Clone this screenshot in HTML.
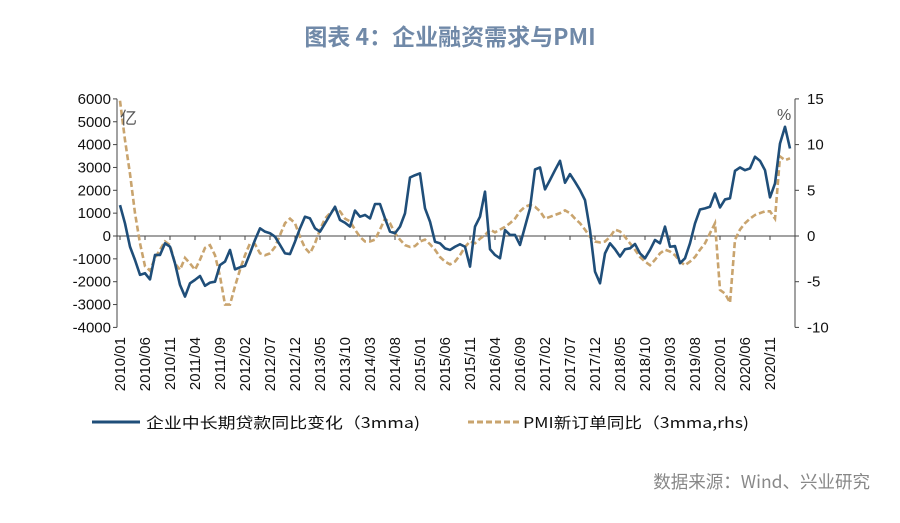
<!DOCTYPE html>
<html><head><meta charset="utf-8"><style>
body{margin:0;background:#fff;}
svg{display:block;font-family:"Liberation Sans","Noto Sans CJK SC",sans-serif;}
</style></head><body>
<svg width="900" height="523" viewBox="0 0 900 523">
<text x="450" y="45" text-anchor="middle" font-size="23" font-weight="600" fill="#7089a8" font-family="'Noto Sans CJK SC',sans-serif">图表 4：企业融资需求与PMI</text>
<g id="axes"></g>
<g id="marks"></g>
<text x="120" y="124" font-size="17" fill="#555" font-family="'Noto Sans CJK SC',sans-serif">亿</text>
<text x="777" y="120" font-size="16" fill="#555">%</text>
<g>
<line x1="92" y1="422" x2="140" y2="422" stroke="#1f4e79" stroke-width="3"/>
<text x="146" y="428" font-size="15" fill="#111" textLength="274" lengthAdjust="spacingAndGlyphs" font-family="'Noto Sans CJK SC',sans-serif">企业中长期贷款同比变化（3mma)</text>
<line x1="468" y1="422" x2="520" y2="422" stroke="#c9a46e" stroke-width="3" stroke-dasharray="6,3"/>
<text x="523" y="428" font-size="15" fill="#111" textLength="226" lengthAdjust="spacingAndGlyphs" font-family="'Noto Sans CJK SC',sans-serif">PMI新订单同比（3mma,rhs)</text>
</g>
<text x="870" y="488" text-anchor="end" font-size="17.5" fill="#888" font-family="'Noto Sans CJK SC',sans-serif">数据来源：Wind、兴业研究</text>
</svg>
<script>
const loans=[1350,550,-470,-1050,-1700,-1630,-1900,-830,-830,-320,-470,-1200,-2140,-2650,-2070,-1920,-1750,-2180,-2040,-2000,-1270,-1120,-610,-1460,-1370,-1310,-760,-175,335,190,120,-30,-390,-760,-790,-250,335,845,770,335,190,550,920,1280,700,580,410,1110,845,920,770,1400,1400,770,190,120,410,990,2560,2660,2740,1210,630,-250,-320,-540,-610,-470,-360,-470,-1340,410,845,1940,-580,-830,-975,260,45,45,-390,410,1210,2910,3000,2040,2450,2880,3290,2330,2710,2370,2010,1570,260,-1560,-2070,-760,-320,-580,-900,-580,-540,-350,-760,-975,-610,-175,-320,410,-470,-440,-1190,-975,-320,550,1160,1210,1280,1860,1250,1600,1650,2850,3000,2880,2960,3470,3290,2880,1690,2300,4050,4780,3830];
const pmi=[14.8,10.5,6.8,2.5,-0.8,-3.3,-3.8,-2.4,-1.5,-0.6,-1.0,-3.0,-3.7,-2.4,-3.0,-3.7,-2.6,-1.3,-1.0,-2.1,-4.4,-7.5,-7.5,-5.5,-3.7,-2.1,-0.8,-0.9,-1.9,-2.1,-1.9,-1.2,0.1,1.4,1.9,1.4,-0.1,-1.3,-1.9,-0.8,0.7,1.9,2.5,3.0,2.7,1.9,1.6,0.7,-0.1,-0.6,-0.6,-0.4,0.7,1.9,1.4,0.3,-0.4,-1.0,-1.2,-1.1,-0.6,-0.4,-0.9,-1.5,-2.3,-2.8,-3.1,-2.8,-2.1,-1.2,-0.6,-0.8,-0.3,0.1,0.7,0.4,0.7,1.0,1.4,1.9,2.7,3.2,3.4,3.2,2.7,1.9,2.1,2.3,2.5,2.8,2.5,1.9,1.4,0.7,-0.1,-0.6,-0.7,-0.6,-0.1,0.7,0.5,-0.1,-0.8,-1.5,-2.3,-2.8,-3.2,-2.6,-1.9,-1.5,-1.7,-2.1,-2.8,-3.2,-2.8,-2.3,-1.5,-0.8,0.3,1.4,-5.9,-6.3,-7.3,-0.4,0.7,1.4,1.9,2.3,2.5,2.7,2.7,1.9,8.7,8.3,8.5];
const leftTicks=[6000,5000,4000,3000,2000,1000,0,-1000,-2000,-3000,-4000];
const rightTicks=[15,10,5,0,-5,-10];
const startYear=2010,startMonth=1,labelStep=5,labelCount=27;

const NS="http://www.w3.org/2000/svg";
const X0=120,DX=5,LEFTX=117,RIGHTX=795;
const yL=v=>236-v*0.02285;
const yRight=v=>236-v*9.14;
const xM=i=>X0+i*DX;
function mk(tag,attrs,parent){const e=document.createElementNS(NS,tag);for(const k in attrs)e.setAttribute(k,attrs[k]);parent.appendChild(e);return e;}
const axes=document.getElementById('axes'),marks=document.getElementById('marks');
let e;
e=mk('line',{x1:LEFTX,y1:yL(6000),x2:LEFTX,y2:yL(-4000),stroke:'#444','stroke-width':1},axes);


e=mk('line',{x1:RIGHTX,y1:yRight(15),x2:RIGHTX,y2:yRight(-10),stroke:'#444','stroke-width':1},axes);


e=mk('line',{x1:LEFTX,y1:yL(0),x2:RIGHTX,y2:yL(0),stroke:'#444','stroke-width':1},axes);


leftTicks.forEach(v=>{
  mk('line',{x1:LEFTX-4,y1:yL(v),x2:LEFTX,y2:yL(v),stroke:'#444'},axes);
  e=mk('text',{x:LEFTX-6,y:yL(v)+5,'text-anchor':'end','font-size':15,fill:'#111'},axes);
  e.textContent=v;
  
  
});
rightTicks.forEach(v=>{
  mk('line',{x1:RIGHTX,y1:yRight(v),x2:RIGHTX+4,y2:yRight(v),stroke:'#444'},axes);
  e=mk('text',{x:RIGHTX+12,y:yRight(v)+5,'font-size':15,fill:'#111'},axes);
  e.textContent=v;
  
  
});
for(let k=0;k<labelCount;k++){
  const m=startMonth-1+k*labelStep, yr=startYear+Math.floor(m/12), mo=m%12+1;
  const x=xM(k*labelStep);
  mk('line',{x1:x,y1:yL(0),x2:x,y2:yL(0)+4,stroke:'#444'},axes);
  e=mk('text',{x:0,y:0,'font-size':15,fill:'#111','text-anchor':'end',transform:`translate(${x+5},337) rotate(-90)`},axes);
  e.textContent=yr+'/'+String(mo).padStart(2,'0');
  
  
}
e=mk('polyline',{points:pmi.map((v,i)=>xM(i)+','+yRight(v)).join(' '),fill:'none',stroke:'#c9a46e','stroke-width':2.6,'stroke-dasharray':'6,3'},marks);


e=mk('polyline',{points:loans.map((v,i)=>xM(i)+','+yL(v)).join(' '),fill:'none',stroke:'#1f4e79','stroke-width':2.6,'stroke-linejoin':'round'},marks);


</script>
</body></html>
